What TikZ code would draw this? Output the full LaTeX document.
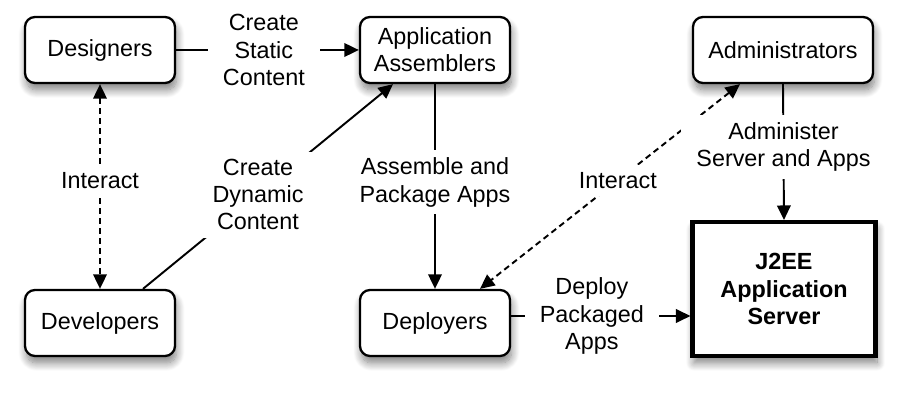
\documentclass[tikz,border=0pt]{standalone}
\usepackage{fontspec}
\setmainfont{Liberation Sans}
\usepackage{tikz}
\usetikzlibrary{arrows.meta,shadows.blur}

\begin{document}
\begin{tikzpicture}[>={Triangle[length=2.9mm,width=2.7mm]}]
\tikzstyle{role}=[draw,line width=1.3pt,rounded corners=0.2cm,fill=white,minimum height=1.32cm,align=center,font=\fontsize{13.3}{15.5}\selectfont,blur shadow={shadow xshift=0.3mm,shadow yshift=-1.4mm,shadow blur steps=12,shadow blur radius=1.6mm,shadow opacity=50}]
\tikzstyle{server}=[draw,line width=2.3pt,fill=white,minimum width=3.66cm,minimum height=2.68cm,align=center,font=\fontsize{13.3}{15.5}\selectfont\bfseries,blur shadow={shadow xshift=0.3mm,shadow yshift=-1.4mm,shadow blur steps=12,shadow blur radius=1.6mm,shadow opacity=50}]
\tikzstyle{flow}=[line width=1.1pt,->]
\tikzstyle{talk}=[line width=1.1pt,<->,dash pattern=on 1.2mm off 0.8mm]
\tikzstyle{lbl}=[fill=white,align=center,inner xsep=0.3cm,inner ysep=0.15cm,font=\fontsize{13.3}{15.5}\selectfont]

\useasboundingbox (0,0) rectangle (18,8);

\node(Designers)  [role,minimum width=3cm] at (2,7) {Designers};
\node(Assemblers) [role,minimum width=3cm] at (8.7,7) {Application\\Assemblers};
\node(Admins)     [role,minimum width=3.6cm] at (15.66,7) {Administrators};
\node(Developers) [role,minimum width=3cm] at (2,1.54) {Developers};
\node(Deployers)  [role,minimum width=3cm] at (8.7,1.54) {Deployers};
\node(Server)     [server] at (15.68,2.22) {J2EE\\Application\\Server};

\draw[flow] (Designers.east) -- node[lbl,pos=0.48] {Create\\Static\\Content} (Assemblers.west);
\draw[flow] ([xshift=0.86cm]Developers.north) -- node[lbl,pos=0.46] {Create\\Dynamic\\Content} ([xshift=-0.84cm]Assemblers.south);
\draw[talk] (Designers.south) -- node[lbl,pos=0.47] {Interact} (Developers.north);
\draw[flow] (Assemblers.south) -- node[lbl,pos=0.48] {Assemble and\\Package Apps} (Deployers.north);
\draw[talk] ([xshift=-0.86cm]Admins.south) -- node[lbl,pos=0.47] {Interact} ([xshift=0.9cm]Deployers.north);
\draw[flow] (Admins.south) -- node[lbl,pos=0.46] {Administer\\Server and Apps} (Server.north);
\draw[flow] ([yshift=0.14cm]Deployers.east) -- node[lbl,pos=0.45] {Deploy\\Packaged\\Apps} ([yshift=0.14cm]Deployers.east -| Server.west);

\end{tikzpicture}
\end{document}
